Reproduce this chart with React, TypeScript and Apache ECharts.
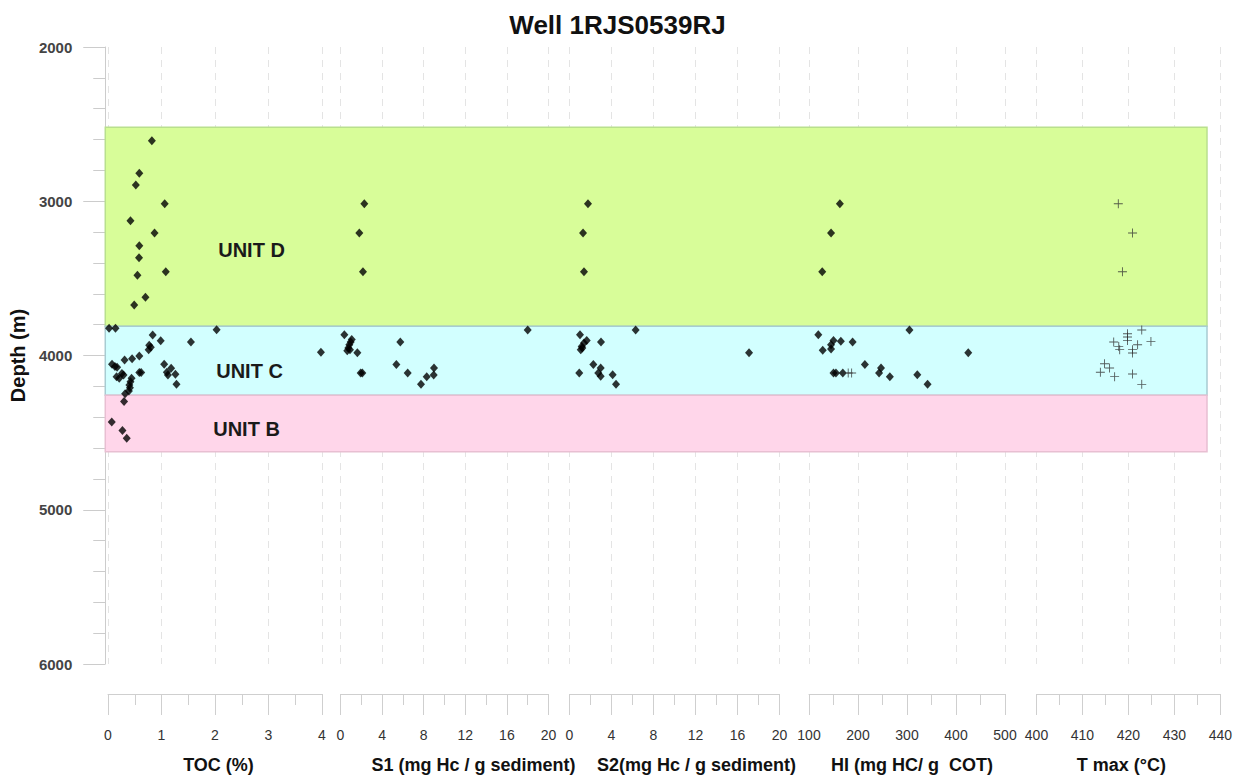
import React, { useEffect, useRef } from "react";
import * as echarts from "echarts";

// ---------- data ----------
const depthRange = [2000, 6000];
const depthTicks = [2000, 3000, 4000, 5000, 6000];

const unitNames = ["UNIT D", "UNIT C", "UNIT B"];
const unitTop = [2520, 3810, 4258];
const unitBottom = [3810, 4258, 4624];

const tocValue = [
  0.82, 0.585, 0.52, 1.06, 0.42, 0.87, 0.585, 0.58, 1.08, 0.55, 0.7, 0.49,
  0.02, 0.14, 2.03, 0.835, 0.985, 1.55, 0.77, 0.8, 0.76, 3.98, 0.585, 0.45, 0.31, 0.075,
  0.13, 0.17, 1.05, 1.18, 1.1, 1.12, 1.26, 1.28, 0.585, 0.62, 0.26, 0.29, 0.16, 0.21,
  0.44, 0.42, 0.4, 0.41, 0.39, 0.32,
  0.3, 0.07, 0.27, 0.35,
];
const tocDepth = [
  2607, 2819, 2895, 3016, 3126, 3206, 3288, 3366, 3457, 3480, 3623, 3673,
  3824, 3824, 3833, 3867, 3904, 3912, 3934, 3947, 3962, 3979, 4003, 4021, 4029, 4057,
  4072, 4076, 4057, 4083, 4109, 4127, 4122, 4187, 4111, 4111, 4116, 4127, 4137, 4148,
  4148, 4170, 4191, 4209, 4230, 4248,
  4299, 4431, 4487, 4537,
];

const s1Value = [
  2.29, 1.81, 2.16,
  0.37, 1.08, 0.98, 0.85, 0.75, 0.65, 0.91, 1.62, 1.94, 2.1, 5.75, 5.37, 6.46, 8.99, 8.96, 8.29, 7.74, 18.0,
];
const s1Depth = [
  3016, 3206, 3457,
  3865, 3897, 3912, 3930, 3951, 3969, 3962, 3982, 4113, 4113, 3912, 4059, 4113, 4081, 4127, 4137, 4187, 3835,
];

const s2Value = [
  1.76, 1.29, 1.38,
  6.3, 1.0, 1.64, 1.38, 1.16, 1.07, 1.22, 3.0, 0.93, 2.27, 2.97, 2.74, 2.97, 4.11, 4.43, 17.1,
];
const s2Depth = [
  3016, 3206, 3457,
  3835, 3865, 3902, 3919, 3941, 3962, 3951, 3912, 4113, 4059, 4081, 4113, 4135, 4124, 4187, 3982,
];

const hiValue = [
  163, 145, 127,
  119, 305, 150, 145, 145, 128, 165, 189, 425, 214, 247, 243, 265, 321, 342, 150, 155, 169,
];
const hiDepth = [
  3016, 3206, 3457,
  3865, 3835, 3902, 3930, 3958, 3966, 3908, 3912, 3982, 4059, 4081, 4113, 4137, 4124, 4187, 4113, 4113, 4113,
];
const hiCrossValue = [180, 187];
const hiCrossDepth = [4113, 4113];

const tmaxValue = [
  417.8, 420.9, 418.7,
  422.9, 419.8, 419.8, 419.8, 416.8, 417.9, 418.1, 422.0, 420.9, 420.9, 424.9, 414.8, 415.9, 413.9, 417.0, 420.9, 422.9,
];
const tmaxDepth = [
  3016, 3206, 3457,
  3835, 3859, 3880, 3902, 3912, 3941, 3962, 3930, 3962, 3984, 3910, 4053, 4081, 4109, 4137, 4120, 4187,
];

const panelNames = ["TOC (%)", "S1 (mg Hc / g sediment)", "S2(mg Hc / g sediment)", "HI (mg HC/ g  COT)", "T max (°C)"];
const panelMin = [0, 0, 0, 100, 400];
const panelMax = [4, 20, 20, 500, 440];
const panelStep = [1, 4, 4, 100, 10];

// ---------- layout / style ----------
const FONT = "'Liberation Sans', Arial, Helvetica, sans-serif";
const panelLeft = [108, 340.5, 569.5, 809, 1036.5];
const panelWidth = [214, 208, 210, 196, 185];
const panelNamePad = [[0, 0, 0, 7], [0, 0, 0, 58], [0, 0, 0, 44], [0, 0, 0, 10], [0, 14, 0, 0]];
const unitFill = ["#d8fd99", "#d2ffff", "#ffd6ea"];
const unitBorder = ["#b9e08e", "#a8ccd2", "#e8bfd2"];
const unitLabelPos = [[147, 124], [145, 46], [142, 34]];

const PLUS = "path://M9,0H11V9H20V11H11V20H9V11H0V9H9Z";

const pairs = (v: number[], d: number[]) => v.map((x, i) => [x, d[i]]);

export default function App() {
  const ref = useRef<HTMLDivElement>(null);
  useEffect(() => {
    if (!ref.current) return;
    const chart = echarts.init(ref.current, null, { renderer: "svg" });

    const top = 47;
    const height = 617;

    const grids: any[] = [{ left: 105, top, width: 1102, height }];
    panelLeft.forEach((l, i) => grids.push({ left: l, top, width: panelWidth[i], height }));

    const xAxes: any[] = [
      { gridIndex: 0, type: "value", min: 0, max: 1, show: false },
    ];
    const yAxes: any[] = [
      {
        gridIndex: 0,
        type: "value",
        inverse: true,
        min: depthRange[0],
        max: depthRange[1],
        interval: depthTicks[1] - depthTicks[0],
        name: "Depth (m)",
        nameLocation: "middle",
        nameGap: 65,
        nameTextStyle: { fontFamily: FONT, fontSize: 20, fontWeight: "bold", color: "#111" },
        axisLine: { show: true, lineStyle: { color: "#cccccc" } },
        axisTick: { show: true, length: 22, lineStyle: { color: "#cccccc" } },
        minorTick: { show: true, splitNumber: 5, length: 12, lineStyle: { color: "#cccccc" } },
        axisLabel: {
          fontFamily: FONT,
          fontSize: 15,
          fontWeight: "bold",
          color: "#444",
          margin: 33,
          formatter: (v: number) => String(v),
        },
        splitLine: { show: false },
      },
    ];
    panelNames.forEach((name, i) => {
      xAxes.push({
        gridIndex: i + 1,
        type: "value",
        min: panelMin[i],
        max: panelMax[i],
        interval: panelStep[i],
        position: "bottom",
        offset: 30,
        name,
        nameLocation: "middle",
        nameGap: 62,
        nameTextStyle: {
          fontFamily: FONT,
          fontSize: 18,
          fontWeight: "bold",
          color: "#111",
          padding: panelNamePad[i],
        },
        axisLine: { show: true, lineStyle: { color: "#cfcfcf" } },
        axisTick: { show: true, length: 21, lineStyle: { color: "#cfcfcf" } },
        minorTick: { show: true, splitNumber: 2, length: 11, lineStyle: { color: "#cfcfcf" } },
        axisLabel: {
          fontFamily: FONT,
          fontSize: 14,
          color: "#333",
          margin: 34,
          formatter: (v: number) => String(v),
        },
        splitLine: { show: true, lineStyle: { type: [7, 6], color: "#e4e4e4" } },
      });
      yAxes.push({
        gridIndex: i + 1,
        type: "value",
        inverse: true,
        min: depthRange[0],
        max: depthRange[1],
        show: false,
        splitLine: { show: false },
      });
    });

    const diamond = (idx: number, data: number[][]) => ({
      type: "scatter",
      xAxisIndex: idx,
      yAxisIndex: idx,
      symbol: "diamond",
      symbolSize: [8, 9],
      itemStyle: { color: "#000" },
      data,
      z: 5,
    });
    const cross = (idx: number, data: number[][]) => ({
      type: "scatter",
      xAxisIndex: idx,
      yAxisIndex: idx,
      symbol: PLUS,
      symbolSize: 9,
      itemStyle: { color: "#333" },
      data,
      z: 5,
    });

    const option: any = {
      animation: false,
      backgroundColor: "#ffffff",
      textStyle: { fontFamily: FONT },
      title: {
        text: "Well 1RJS0539RJ",
        left: "center",
        top: 7,
        textStyle: { fontFamily: FONT, fontSize: 26, fontWeight: "bold", color: "#111" },
      },
      grid: grids,
      xAxis: xAxes,
      yAxis: yAxes,
      series: [
        {
          type: "scatter",
          xAxisIndex: 0,
          yAxisIndex: 0,
          data: [],
          z: -10,
          silent: true,
          markArea: {
            silent: true,
            data: unitNames.map((n, i) => [
              {
                name: n,
                yAxis: unitTop[i],
                itemStyle: { color: unitFill[i], borderColor: unitBorder[i], borderWidth: 1.5 },
                label: {
                  show: true,
                  position: unitLabelPos[i],
                  align: "center",
                  verticalAlign: "middle",
                  fontFamily: FONT,
                  fontSize: 20,
                  fontWeight: "bold",
                  color: "#1a1a1a",
                },
              },
              { yAxis: unitBottom[i] },
            ]),
          },
        },
        diamond(1, pairs(tocValue, tocDepth)),
        diamond(2, pairs(s1Value, s1Depth)),
        diamond(3, pairs(s2Value, s2Depth)),
        diamond(4, pairs(hiValue, hiDepth)),
        cross(4, pairs(hiCrossValue, hiCrossDepth)),
        cross(5, pairs(tmaxValue, tmaxDepth)),
      ],
    };
    chart.setOption(option);
    return () => chart.dispose();
  }, []);
  return (
    <div
      ref={ref}
      style={{ position: "fixed", left: 0, top: 0, width: 1235, height: 780, background: "#fff" }}
    />
  );
}
